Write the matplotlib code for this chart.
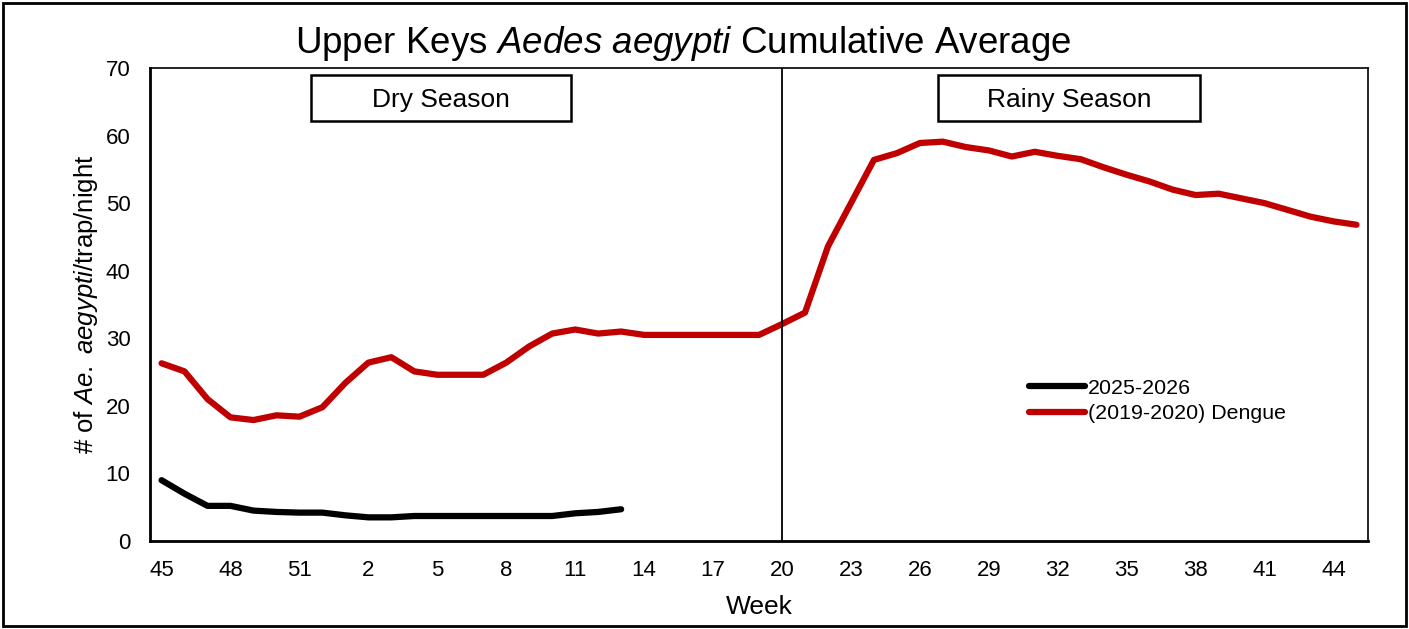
import numpy as np
import matplotlib.pyplot as plt
from matplotlib.patches import Rectangle

# week labels along the category axis (week 45 of one year to week 45 of the next)
weeks = [45, 46, 47, 48, 49, 50, 51, 52] + list(range(1, 46))

# 2025-2026 season, data so far (weeks 45 .. 13)
current = [9.0, 7.0, 5.2, 5.2, 4.5, 4.3, 4.2, 4.2, 3.8, 3.5, 3.5, 3.7,
           3.7, 3.7, 3.7, 3.7, 3.7, 3.7, 4.1, 4.3, 4.7]

# (2019-2020) dengue season, weeks 45 .. 45
dengue = [26.3, 25.1, 21.0, 18.3, 17.9, 18.6, 18.4, 19.8, 23.4, 26.4, 27.2,
          25.1, 24.6, 24.6, 24.6, 26.4, 28.8, 30.7, 31.3, 30.7, 31.0, 30.5,
          30.5, 30.5, 30.5, 30.5, 30.5, 32.1, 33.8, 43.6, 50.0, 56.4, 57.4,
          58.9, 59.1, 58.3, 57.8, 56.9, 57.6, 57.0, 56.5, 55.3, 54.2, 53.2,
          52.0, 51.2, 51.4, 50.7, 50.0, 49.0, 48.0, 47.3, 46.8]

season_split = 20

plt.rcParams['font.family'] = ['Liberation Sans', 'DejaVu Sans']
plt.rcParams['mathtext.fontset'] = 'custom'
plt.rcParams['mathtext.rm'] = 'Liberation Sans'
plt.rcParams['mathtext.it'] = 'Liberation Sans:italic'


def main():
    fig = plt.figure(figsize=(14.09, 6.29), dpi=100)
    ax = fig.add_axes([0.1065, 0.1399, 0.8644, 0.752])

    x = np.arange(len(weeks))
    ax.plot(x[:len(current)], current, color='black', lw=4.5,
            solid_capstyle='round', label='2025-2026')
    ax.plot(x[:len(dengue)], dengue, color='#C00000', lw=4.5,
            solid_capstyle='round', label='(2019-2020) Dengue')

    # boundary between dry and rainy season
    split_idx = weeks.index(season_split, 8)
    ax.axvline(split_idx, color='black', lw=1.3)

    ax.set_xlim(-0.5, len(weeks) - 0.5)
    ax.set_ylim(0, 70)
    ax.set_yticks(range(0, 71, 10))
    ax.set_xticks(x[::3])
    ax.set_xticklabels([str(w) for w in weeks[::3]])
    ax.tick_params(length=0, labelsize=16)
    ax.tick_params(axis='x', pad=14)
    ax.tick_params(axis='y', pad=14)

    for side in ['left', 'bottom']:
        ax.spines[side].set_linewidth(2)
    for side in ['top', 'right']:
        ax.spines[side].set_linewidth(1.2)

    ax.set_xlabel('Week', fontsize=19, labelpad=10)
    ax.set_ylabel(r'# of $\it{Ae.\ aegypti}$/trap/night', fontsize=18.5, labelpad=4)
    fig.text(0.485, 0.931, r'Upper Keys $\it{Aedes\ aegypti}$ Cumulative Average',
             ha='center', va='center', fontsize=26.5)

    # season labels in boxes
    for x0, x1, txt in [(0.132, 0.346, 'Dry Season'), (0.647, 0.862, 'Rainy Season')]:
        ax.add_patch(Rectangle((x0, 0.888), x1 - x0, 0.097, transform=ax.transAxes,
                               fill=False, edgecolor='black', lw=1.8))
        ax.text((x0 + x1) / 2, 0.933, txt, transform=ax.transAxes,
                ha='center', va='center', fontsize=19)

    ax.legend(loc='upper left', bbox_to_anchor=(0.722, 0.343), frameon=False,
              fontsize=15.4, handlelength=2.6, handletextpad=0.15,
              borderpad=0, borderaxespad=0, labelspacing=0.3)

    # outer border around the whole picture
    fig.patches.append(Rectangle((0.002, 0.004), 0.996, 0.992, transform=fig.transFigure,
                                 fill=False, edgecolor='black', lw=2))

    fig.savefig('out.png', dpi=100)


if __name__ == "__main__":
    main()
